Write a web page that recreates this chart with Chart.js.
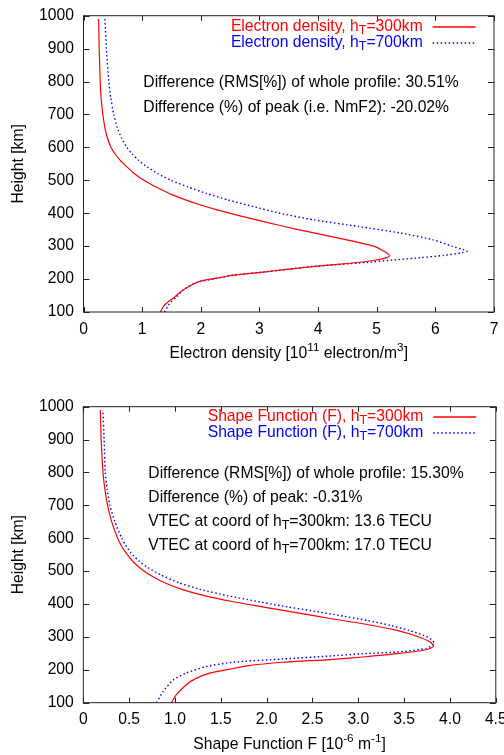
<!DOCTYPE html>
<html>
<head>
<meta charset="utf-8">
<script src="https://cdn.jsdelivr.net/npm/chart.js@4.4.1/dist/chart.umd.min.js"></script>
<style>
  html, body { margin: 0; padding: 0; background: #fff; }
  .panel { position: absolute; left: 0; width: 504px; }
</style>
</head>
<body>
<div class="panel" style="top:0;height:378px"><canvas id="densityChart" width="504" height="378"></canvas></div>
<div class="panel" style="top:378px;height:377px"><canvas id="shapeChart" width="504" height="377"></canvas></div>
<script>
// electron density profiles [1e11 el/m^3] vs height [km]
const densHeight300 = [100, 116, 126, 145, 159, 179, 193, 202, 212, 222, 227, 238, 248, 258, 265, 271, 280, 290, 300, 310, 320, 335, 350, 365, 380, 395, 410, 425, 440, 455, 470, 485, 500, 520, 540, 560, 580, 600, 630, 660, 700, 750, 800, 900, 990];
const densValue300 = [1.31, 1.36, 1.41, 1.55, 1.64, 1.81, 1.98, 2.24, 2.55, 3.1, 3.35, 3.9, 4.55, 5.0, 5.17, 5.22, 5.17, 5.07, 4.95, 4.72, 4.47, 4.07, 3.66, 3.3, 2.95, 2.6, 2.28, 2.0, 1.75, 1.53, 1.35, 1.18, 1.03, 0.87, 0.745, 0.63, 0.54, 0.47, 0.405, 0.365, 0.33, 0.30, 0.285, 0.268, 0.258];
const densHeight700 = [100, 126, 145, 167, 189, 202, 212, 222, 227, 238, 250, 258, 265, 272, 280, 285, 290, 300, 320, 340, 360, 380, 400, 420, 440, 460, 480, 500, 520, 540, 560, 580, 600, 630, 660, 700, 750, 800, 900, 990];
const densValue700 = [1.38, 1.47, 1.58, 1.70, 1.92, 2.27, 2.57, 3.1, 3.35, 3.88, 4.8, 5.3, 5.75, 6.15, 6.45, 6.54, 6.47, 6.28, 5.95, 5.4, 4.68, 3.92, 3.35, 2.9, 2.47, 2.1, 1.78, 1.49, 1.27, 1.09, 0.945, 0.83, 0.74, 0.645, 0.575, 0.515, 0.465, 0.432, 0.39, 0.366];

// shape function F [1e-6 1/m] vs height [km]
const shapeHeight300 = [100, 118, 123, 154, 174, 190, 202, 212, 223, 231, 239, 249, 261, 272, 285, 302, 320, 340, 356, 370, 382, 395, 407, 425, 443, 463, 483, 503, 524, 550, 575, 600, 650, 700, 750, 800, 900, 990];
const shapeValue300 = [0.96, 1.0, 1.01, 1.12, 1.23, 1.38, 1.6, 1.78, 2.18, 2.69, 3.05, 3.42, 3.74, 3.82, 3.78, 3.64, 3.42, 3.05, 2.69, 2.4, 2.15, 1.88, 1.64, 1.33, 1.09, 0.9, 0.76, 0.65, 0.56, 0.48, 0.42, 0.375, 0.31, 0.265, 0.235, 0.215, 0.195, 0.186];
const shapeHeight700 = [100, 134, 169, 190, 210, 223, 233, 242, 249, 254, 265, 280, 292, 305, 320, 335, 350, 365, 380, 395, 410, 425, 445, 465, 488, 510, 530, 555, 580, 600, 650, 700, 750, 800, 900, 990];
const shapeValue700 = [0.80, 0.87, 0.98, 1.12, 1.34, 1.63, 2.18, 2.69, 3.05, 3.42, 3.74, 3.83, 3.8, 3.71, 3.55, 3.35, 3.1, 2.8, 2.48, 2.15, 1.86, 1.58, 1.27, 1.04, 0.85, 0.71, 0.61, 0.52, 0.46, 0.42, 0.345, 0.29, 0.26, 0.24, 0.227, 0.215];

const heightTicks = [100, 200, 300, 400, 500, 600, 700, 800, 900, 1000];

const FAMILY = "'Liberation Sans', Arial, sans-serif";
const SIZE = 15.7;
const RED = '#ff0000';
const BLUE = '#0000ff';

const toPoints = (hs, vs) => hs.map((h, i) => ({ x: vs[i], y: h }));

// text with sub/superscripts: parts are strings or {sub: ...} / {sup: ...}
function drawRuns(ctx, parts, x, y, align, color) {
  const runs = parts.map(p => {
    const r = typeof p === 'string' ? { t: p, dy: 0, size: SIZE }
      : p.sub ? { t: p.sub, dy: 4, size: SIZE * 0.8 }
      : { t: p.sup, dy: -6, size: SIZE * 0.75 };
    ctx.font = r.size + 'px ' + FAMILY;
    r.w = ctx.measureText(r.t).width;
    return r;
  });
  const total = runs.reduce((s, r) => s + r.w, 0);
  let cx = align === 'right' ? x - total : align === 'center' ? x - total / 2 : x;
  ctx.fillStyle = color;
  ctx.textAlign = 'left';
  ctx.textBaseline = 'middle';
  runs.forEach(r => {
    ctx.font = r.size + 'px ' + FAMILY;
    ctx.fillText(r.t, cx, y + r.dy);
    cx += r.w;
  });
}

function decoPlugin(cfg) {
  return {
    id: 'deco',
    afterDraw(chart) {
      const { ctx, chartArea: a, scales } = chart;
      ctx.save();
      // frame and inward ticks on all four sides
      ctx.strokeStyle = '#222';
      ctx.lineWidth = 1;
      ctx.strokeRect(a.left, a.top, a.right - a.left, a.bottom - a.top);
      ctx.beginPath();
      scales.x.ticks.forEach(t => {
        const px = Math.round(scales.x.getPixelForValue(t.value)) + 0.5;
        ctx.moveTo(px, a.bottom); ctx.lineTo(px, a.bottom - 5);
        ctx.moveTo(px, a.top); ctx.lineTo(px, a.top + 5);
      });
      scales.y.ticks.forEach(t => {
        const py = Math.round(scales.y.getPixelForValue(t.value)) + 0.5;
        ctx.moveTo(a.left, py); ctx.lineTo(a.left + 6, py);
        ctx.moveTo(a.right, py); ctx.lineTo(a.right - 6, py);
      });
      ctx.stroke();

      // key
      cfg.legend.forEach((k, i) => {
        const y = Math.round(cfg.legendY + i * cfg.legendStep);
        drawRuns(ctx, k.text, cfg.legendRight, y, 'right', k.color);
        ctx.beginPath();
        ctx.strokeStyle = k.color;
        ctx.lineWidth = 1.4;
        ctx.setLineDash(k.dash || []);
        ctx.moveTo(cfg.legendRight + 10, y);
        ctx.lineTo(cfg.legendRight + 53, y);
        ctx.stroke();
        ctx.setLineDash([]);
      });

      // notes
      cfg.notes.forEach((n, i) => {
        drawRuns(ctx, n, cfg.notesX, cfg.notesY + i * cfg.notesStep, 'left', '#000');
      });

      // axis titles
      drawRuns(ctx, cfg.xTitle, (a.left + a.right) / 2, cfg.xTitleY, 'center', '#000');
      ctx.translate(19, (a.top + a.bottom) / 2);
      ctx.rotate(-Math.PI / 2);
      drawRuns(ctx, ['Height [km]'], 0, 0, 'center', '#000');
      ctx.restore();
    }
  };
}

function makeChart(id, datasets, xMax, xStep, box, deco) {
  return new Chart(document.getElementById(id), {
    type: 'scatter',
    data: { datasets },
    options: {
      responsive: false,
      animation: false,
      events: [],
      layout: { padding: { top: box.top, right: box.right, left: 0, bottom: 0 } },
      plugins: { legend: { display: false }, tooltip: { enabled: false } },
      elements: { point: { radius: 0 } },
      scales: {
        x: {
          type: 'linear', min: 0, max: xMax,
          grid: { display: false, drawTicks: false }, border: { display: false },
          ticks: { stepSize: xStep, padding: 8, color: '#000', maxRotation: 0, font: { family: FAMILY, size: SIZE } },
          afterFit(s) { s.height = box.xHeight; s.paddingLeft = 0; s.paddingRight = 0; }
        },
        y: {
          type: 'linear', min: 100, max: 1000,
          grid: { display: false, drawTicks: false }, border: { display: false },
          afterBuildTicks(s) { s.ticks = heightTicks.map(v => ({ value: v })); },
          ticks: { padding: 9.5, color: '#000', font: { family: FAMILY, size: SIZE }, callback: v => String(v) },
          afterFit(s) { s.width = box.yWidth; s.paddingTop = 0; s.paddingBottom = 0; }
        }
      }
    },
    plugins: [decoPlugin(deco)]
  });
}

const line = (points, color, dash) => ({
  data: points, showLine: true, borderColor: color, borderWidth: dash ? 1.4 : 1.2,
  borderDash: dash || [], tension: 0.2, fill: false
});

makeChart('densityChart', [
  line(toPoints(densHeight300, densValue300), RED),
  line(toPoints(densHeight700, densValue700), BLUE, [1.5, 2.5])
], 7, 1, { top: 15.7, right: 10, xHeight: 66, yWidth: 83.5 }, {
  legend: [
    { text: ['Electron density, h', { sub: 'T' }, '=300km'], color: RED },
    { text: ['Electron density, h', { sub: 'T' }, '=700km'], color: BLUE, dash: [1.5, 2.5] }
  ],
  legendY: 26.5, legendStep: 16, legendRight: 422.7,
  notes: [
    ['Difference (RMS[%]) of whole profile: 30.51%'],
    ['Difference (%) of peak (i.e. NmF2): -20.02%']
  ],
  notesX: 143.3, notesY: 82.5, notesStep: 25,
  xTitle: ['Electron density [10', { sup: '11' }, ' electron/m', { sup: '3' }, ']'],
  xTitleY: 354
});

makeChart('shapeChart', [
  line(toPoints(shapeHeight300, shapeValue300), RED),
  line(toPoints(shapeHeight700, shapeValue700), BLUE, [1.5, 2.5])
], 4.5, 0.5, { top: 28.7, right: 8.2, xHeight: 52.3, yWidth: 83.3 }, {
  legend: [
    { text: ['Shape Function (F), h', { sub: 'T' }, '=300km'], color: RED },
    { text: ['Shape Function (F), h', { sub: 'T' }, '=700km'], color: BLUE, dash: [1.5, 2.5] }
  ],
  legendY: 39.3, legendStep: 15.4, legendRight: 423.3,
  notes: [
    ['Difference (RMS[%]) of whole profile: 15.30%'],
    ['Difference (%) of peak: -0.31%'],
    ['VTEC at coord of h', { sub: 'T' }, '=300km: 13.6 TECU'],
    ['VTEC at coord of h', { sub: 'T' }, '=700km: 17.0 TECU']
  ],
  notesX: 148.3, notesY: 95.5, notesStep: 23.9,
  xTitle: ['Shape Function F [10', { sup: '-6' }, ' m', { sup: '-1' }, ']'],
  xTitleY: 367
});
</script>
</body>
</html>
